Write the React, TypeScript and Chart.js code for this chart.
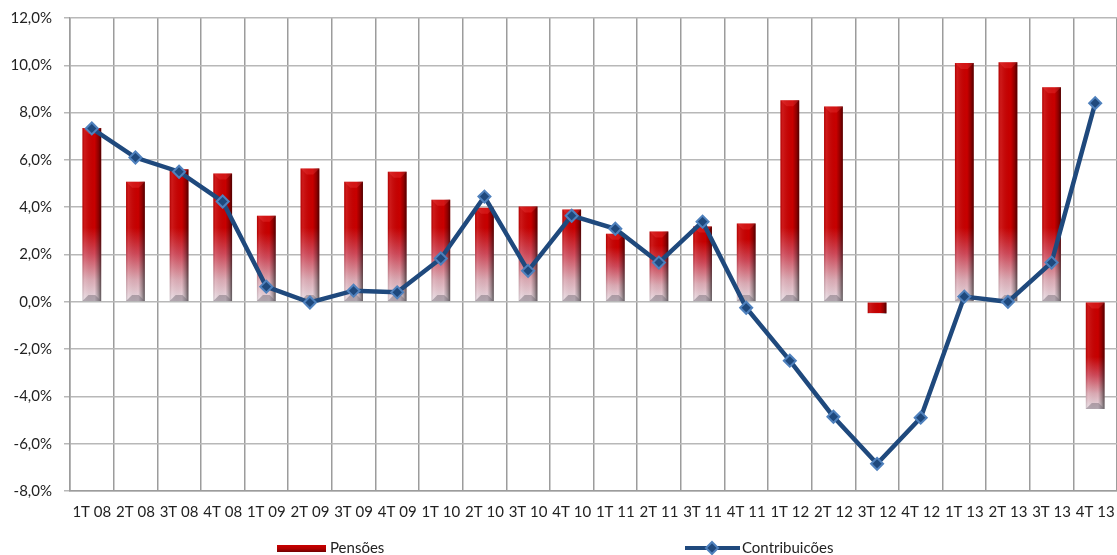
import React, { useEffect, useRef } from "react";
import { Chart, registerables } from "chart.js";

Chart.register(...registerables);

const categories = [
  "1T 08", "2T 08", "3T 08", "4T 08",
  "1T 09", "2T 09", "3T 09", "4T 09",
  "1T 10", "2T 10", "3T 10", "4T 10",
  "1T 11", "2T 11", "3T 11", "4T 11",
  "1T 12", "2T 12", "3T 12", "4T 12",
  "1T 13", "2T 13", "3T 13", "4T 13",
];

const pensoes = [
  7.35, 5.08, 5.6, 5.42,
  3.64, 5.64, 5.08, 5.5,
  4.32, 3.98, 4.03, 3.9,
  2.88, 2.97, 3.18, 3.31,
  8.52, 8.26, -0.5, 0,
  10.1, 10.13, 9.07, -4.53,
];

const contribuicoes = [
  7.33, 6.1, 5.5, 4.24,
  0.64, -0.03, 0.47, 0.4,
  1.83, 4.45, 1.31, 3.64,
  3.09, 1.66, 3.39, -0.25,
  -2.49, -4.86, -6.85, -4.9,
  0.22, 0.0, 1.66, 8.4,
];

const seriesNames = ["Pensões", "Contribuicões"];
const yMin = -8;
const yMax = 12;
const yStep = 2;

const FONT = "Lato, 'Open Sans', sans-serif";

function barFill(ctx: any) {
  const chart = ctx.chart;
  const area = chart.chartArea;
  if (!area) return "#C80000";
  const v = pensoes[ctx.dataIndex];
  const ys = chart.scales.y;
  const y0 = ys.getPixelForValue(0);
  const yv = ys.getPixelForValue(v);
  const h = Math.abs(y0 - yv);
  const lower = Math.max(y0, yv);
  let fade = v >= 0 ? Math.min(74, h * 0.8) : h > 30 ? 52 : 1;
  if (fade < 1) fade = 1;
  const g = chart.ctx.createLinearGradient(0, lower, 0, lower - fade);
  g.addColorStop(0, "#e9dfe6");
  g.addColorStop(0.3, "#dcaab4");
  g.addColorStop(0.65, "#d04858");
  g.addColorStop(1, "#c80000");
  return g;
}

const bevelPlugin = {
  id: "bevel",
  afterDatasetDraw(chart: any, args: any) {
    if (args.index !== 0) return;
    const ctx = chart.ctx;
    const meta = chart.getDatasetMeta(0);
    ctx.save();
    meta.data.forEach((el: any, i: number) => {
      const v = pensoes[i];
      if (!v) return;
      const left = el.x - el.width / 2;
      const right = el.x + el.width / 2;
      const top = Math.min(el.y, el.base);
      const bottom = Math.max(el.y, el.base);
      const g = ctx.createLinearGradient(left, 0, right, 0);
      g.addColorStop(0, "rgba(0,0,0,0.12)");
      g.addColorStop(0.12, "rgba(255,255,255,0.1)");
      g.addColorStop(0.65, "rgba(0,0,0,0)");
      g.addColorStop(0.85, "rgba(0,0,0,0.28)");
      g.addColorStop(1, "rgba(0,0,0,0.6)");
      ctx.fillStyle = g;
      ctx.fillRect(left, top, right - left, bottom - top);
      if (bottom - top > 20) {
        const bh = 6;
        // top bevel (lighter)
        ctx.fillStyle = "rgba(255,80,80,0.25)";
        ctx.beginPath();
        ctx.moveTo(left, top);
        ctx.lineTo(right, top);
        ctx.lineTo(right - bh, top + bh);
        ctx.lineTo(left + bh, top + bh);
        ctx.closePath();
        ctx.fill();
        // bottom bevel (grey)
        ctx.fillStyle = "rgba(110,100,110,0.45)";
        ctx.beginPath();
        ctx.moveTo(left, bottom);
        ctx.lineTo(left + bh, bottom - bh);
        ctx.lineTo(right - bh, bottom - bh);
        ctx.lineTo(right, bottom);
        ctx.closePath();
        ctx.fill();
      }
    });
    ctx.restore();
  },
};

const legendPlugin = {
  id: "customLegend",
  afterDraw(chart: any) {
    const ctx = chart.ctx;
    const y = 548;
    ctx.save();
    const g = ctx.createLinearGradient(0, y - 4, 0, y + 4);
    g.addColorStop(0, "#d00000");
    g.addColorStop(0.6, "#b00000");
    g.addColorStop(1, "#700000");
    ctx.fillStyle = g;
    ctx.fillRect(277, y - 3, 49, 7);
    ctx.fillStyle = "#222";
    ctx.font = "15px " + FONT;
    ctx.textBaseline = "middle";
    ctx.textAlign = "left";
    ctx.fillText(seriesNames[0], 330, y);
    ctx.strokeStyle = "#1F497D";
    ctx.lineWidth = 4;
    ctx.beginPath();
    ctx.moveTo(685, y);
    ctx.lineTo(740, y);
    ctx.stroke();
    ctx.fillStyle = "#1F497D";
    ctx.strokeStyle = "#4F81BD";
    ctx.lineWidth = 2;
    ctx.beginPath();
    ctx.moveTo(712, y - 6);
    ctx.lineTo(718, y);
    ctx.lineTo(712, y + 6);
    ctx.lineTo(706, y);
    ctx.closePath();
    ctx.fill();
    ctx.stroke();
    ctx.fillStyle = "#222";
    ctx.fillText(seriesNames[1], 742, y);
    ctx.restore();
  },
};

export default function App() {
  const ref = useRef<HTMLCanvasElement | null>(null);

  useEffect(() => {
    if (!ref.current) return;
    const chart = new Chart(ref.current, {
      type: "bar",
      data: {
        labels: categories,
        datasets: [
          {
            type: "bar",
            label: seriesNames[0],
            data: pensoes,
            backgroundColor: barFill as any,
            barPercentage: 0.43,
            categoryPercentage: 1,
            order: 1,
          },
          {
            type: "line",
            label: seriesNames[1],
            data: contribuicoes,
            borderColor: "#1F497D",
            borderWidth: 4.5,
            tension: 0,
            pointStyle: "rectRot",
            pointRadius: 6,
            pointBackgroundColor: "#1F497D",
            pointBorderColor: "#4F81BD",
            pointBorderWidth: 2,
            clip: false,
            order: 0,
          } as any,
        ],
      },
      options: {
        responsive: false,
        animation: false,
        layout: { autoPadding: false, padding: { top: 18, right: 0, bottom: 22, left: 0 } },
        plugins: {
          legend: { display: false },
          tooltip: { enabled: false },
        },
        scales: {
          x: {
            offset: true,
            afterFit: (s: any) => {
              s.paddingLeft = 0;
              s.paddingRight = 0;
            },
            grid: { offset: true, color: "#9c9c9c", lineWidth: 1.5, drawTicks: false },
            border: { color: "#9c9c9c", width: 1.5 },
            ticks: {
              color: "#222",
              font: { family: FONT, size: 15 },
              padding: 12,
              maxRotation: 0,
              autoSkip: false,
            },
          },
          y: {
            min: yMin,
            max: yMax,
            afterFit: (s: any) => {
              s.width = 70;
              s.paddingTop = 0;
              s.paddingBottom = 0;
            },
            grid: { color: "#b8b8b8", lineWidth: 1.5, tickLength: 6 },
            border: { color: "#9c9c9c", width: 1.5 },
            ticks: {
              stepSize: yStep,
              color: "#222",
              font: { family: FONT, size: 15 },
              padding: 12,
              callback: (v: any) => Number(v).toFixed(1).replace(".", ",") + "%",
            },
          },
        },
      },
      plugins: [bevelPlugin, legendPlugin],
    });
    return () => chart.destroy();
  }, []);

  return (
    <div style={{ position: "absolute", left: 0, top: 0, width: 1117, height: 555, background: "#fff" }}>
      <canvas ref={ref} width={1117} height={555} />
    </div>
  );
}
